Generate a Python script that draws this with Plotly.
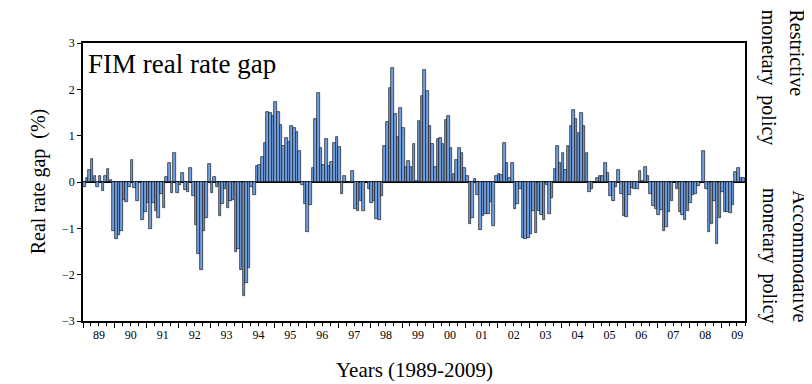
import pandas as pd
import plotly.graph_objects as go

SERIF = "Liberation Serif, Times New Roman, serif"

# monthly FIM real rate gap (%), 1989:01 - 2009:09
gap_values = [
    -0.10, 0.08, 0.25, 0.50, 0.12, -0.10, 0.14, -0.20, 0.14, 0.28, 0.04, -1.05,      # 1989
    -1.22, -1.15, -1.05, -0.38, -0.43, -0.10, 0.47, -0.12, -0.40, 0.00, -0.82, -0.65,  # 1990
    -0.45, -1.02, -0.45, -0.62, -0.77, -0.25, -0.57, 0.10, 0.40, -0.24, 0.63, -0.24,   # 1991
    -0.06, 0.20, -0.18, -0.22, 0.31, -0.31, -0.93, -1.55, -1.90, -1.05, -0.78, 0.38,   # 1992
    -0.24, 0.10, -0.10, -0.73, -0.47, -0.15, -0.57, -0.42, -0.38, -1.52, -1.45, -1.90, # 1993
    -2.45, -2.17, -1.85, -0.10, -0.28, 0.35, 0.36, 0.53, 0.85, 1.52, 1.48, 1.42,       # 1994
    1.73, 1.52, 1.23, 0.77, 0.94, 0.87, 1.20, 1.17, 1.08, 0.66, -0.07, -0.47,          # 1995
    -1.07, -0.50, 0.30, 1.35, 1.93, 0.73, 0.37, 0.93, 0.35, 0.43, 0.85, 0.98,          # 1996
    0.76, -0.25, 0.14, 0.00, -0.02, 0.24, -0.58, -0.62, -0.42, -0.62, 0.00, -0.15,     # 1997
    -0.45, -0.40, -0.80, -0.83, -0.30, 0.78, 1.30, 2.03, 2.45, 1.47, 0.98, 1.60,       # 1998
    1.17, 0.33, 0.45, 0.33, 0.83, 0.02, 1.32, 1.85, 2.42, 1.97, 1.20, 0.82,            # 1999
    0.33, 0.93, 0.95, 0.82, 1.33, 1.43, 0.73, 0.18, 0.48, 0.73, 0.62, 0.30,            # 2000
    0.12, -0.90, -0.78, 0.07, -0.27, -1.03, -0.73, -0.68, -0.68, -0.43, -0.95, 0.14,   # 2001
    0.17, 0.15, 0.85, 0.40, 0.08, 0.42, -0.59, -0.47, -0.15, -1.20, -1.22, -1.20,      # 2002
    -1.12, -0.63, -1.10, -0.63, -0.72, -0.83, -0.07, -0.68, -0.35, 0.27, 0.78, 0.40,   # 2003
    0.62, 0.25, 0.78, 1.20, 1.55, 1.35, 1.05, 1.48, 1.20, 0.63, -0.22, -0.15,          # 2004
    0.00, 0.08, 0.12, 0.12, 0.42, 0.20, -0.30, -0.40, -0.10, 0.25, -0.25, -0.73,       # 2005
    -0.75, -0.27, -0.12, -0.15, -0.15, 0.23, 0.03, 0.32, 0.12, -0.25, -0.52, -0.58,    # 2006
    -0.72, -0.60, -1.05, -0.97, -0.65, -0.42, 0.00, -0.15, -0.65, -0.72, -0.83, -0.63, # 2007
    -0.45, -0.27, -0.25, -0.08, 0.00, 0.67, -0.15, -1.08, -0.90, -0.42, -1.33, -0.78,  # 2008
    -0.22, -0.65, -0.65, -0.67, -0.50, 0.22, 0.30, 0.08, 0.08,                         # 2009
]
months = pd.date_range("1989-01-01", periods=len(gap_values), freq="MS")

fig = go.Figure(go.Bar(
    x=months,
    y=gap_values,
    xperiod="M1",
    xperiodalignment="middle",
    marker=dict(color="#6f9fe4", line=dict(color="#1a1a1a", width=0.7)),
))

# the page body adds an 8px offset, so the figure is 8px smaller than the window
fig.update_layout(
    width=804,
    height=376,
    margin=dict(l=75, r=67, t=35, b=63),
    paper_bgcolor="white",
    plot_bgcolor="white",
    bargap=0,
    showlegend=False,
    font=dict(family=SERIF, color="black", size=12),
)

fig.update_xaxes(
    type="date",
    range=["1989-01-01", "2009-10-01"],
    tick0="1989-01-01",
    dtick="M12",
    tickformat="%y",
    ticklabelmode="period",
    ticks="outside",
    ticklen=5,
    tickcolor="black",
    ticklabelstandoff=-3,
    minor=dict(dtick="M3", ticks="outside", ticklen=3, tickcolor="black"),
    showline=True,
    mirror=True,
    linecolor="black",
    linewidth=1.5,
    showgrid=False,
    tickfont=dict(family=SERIF, size=12),
)
fig.update_yaxes(
    range=[-3, 3],
    dtick=1,
    ticks="outside",
    ticklen=4,
    tickcolor="black",
    showline=True,
    mirror=True,
    linecolor="black",
    linewidth=1.5,
    showgrid=False,
    zeroline=True,
    zerolinecolor="black",
    zerolinewidth=1.5,
    layer="above traces",
    tickfont=dict(family=SERIF, size=12),
)

NBSP2 = "\u00a0\u00a0"

fig.add_annotation(text="FIM real rate gap", xref="paper", yref="paper", x=0.004, y=0.985,
                   xanchor="left", yanchor="top", showarrow=False,
                   font=dict(family=SERIF, size=27))
fig.add_annotation(text=f"Real rate gap{NBSP2}(%)", xref="paper", yref="paper", x=-0.088, y=0.5,
                   textangle=-90, showarrow=False, font=dict(family=SERIF, size=20))
fig.add_annotation(text="Years (1989-2009)", xref="paper", yref="paper", x=0.5, y=-0.176,
                   yanchor="middle", showarrow=False, font=dict(family=SERIF, size=21))

# rotated side notes, one annotation per line
side_notes = [
    ("Restrictive", 1.0785, 1.126),
    (f"monetary{NBSP2}policy", 1.035, 1.126),
    ("Accommodative", 1.083, 0.478),
    (f"monetary{NBSP2}policy", 1.038, 0.485),
]
for text, xp, yp in side_notes:
    fig.add_annotation(text=text, xref="paper", yref="paper", x=xp, y=yp,
                       xanchor="center", yanchor="top", textangle=90,
                       showarrow=False, font=dict(family=SERIF, size=20))

fig.write_html("out.html")
